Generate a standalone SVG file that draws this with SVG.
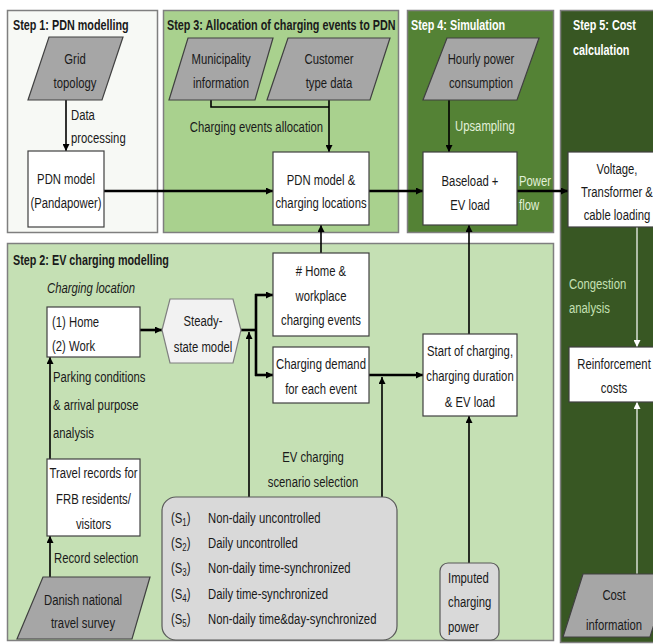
<svg xmlns="http://www.w3.org/2000/svg" width="653" height="644" viewBox="0 0 653 644">
<defs>
<style>
text{font-family:"Liberation Sans",Arial,sans-serif;font-size:14.5px;fill:#1a1a1a}
.m{text-anchor:middle}
.b{font-weight:bold}
.w{fill:#ffffff}
.lg{fill:#e2f0d9}
.cg{fill:#c5e0b4}
.i{font-style:italic}
.panel{stroke:#7f7f7f;stroke-width:1.5}
.box{fill:#ffffff;stroke:#404040;stroke-width:1.2}
.par{fill:#a6a6a6;stroke:#404040;stroke-width:1.2}
.gr{fill:#d9d9d9;stroke:#595959;stroke-width:1.2}
.ln{fill:none;stroke:#000;stroke-width:1.6}
.th{fill:none;stroke:#000;stroke-width:2.6}
.wl{fill:none;stroke:#fff;stroke-width:1.2}
</style>
<marker id="ah" markerUnits="userSpaceOnUse" markerWidth="8" markerHeight="7" refX="7" refY="3.5" orient="auto"><path d="M0,0 L7,3.5 L0,7 z" fill="#000"/></marker>
<marker id="aw" markerUnits="userSpaceOnUse" markerWidth="8" markerHeight="7" refX="7" refY="3.5" orient="auto"><path d="M0,0 L7,3.5 L0,7 z" fill="#fff"/></marker>
</defs>
<rect width="653" height="644" fill="#ffffff"/>

<g id="panels">
<rect class="panel" x="7.5" y="10.5" width="150" height="222" fill="#f7f9f5"/>
<rect class="panel" x="163.5" y="10.5" width="235" height="222" fill="#a9d18e"/>
<rect class="panel" x="407.5" y="10.5" width="146" height="222" fill="#548235"/>
<rect class="panel" x="560.5" y="10.5" width="100" height="632" fill="#385723"/>
<rect class="panel" x="7.5" y="243.5" width="546" height="397" fill="#c5e0b4"/>
<text class="b" transform="translate(13 30) scale(.745 1)">Step 1: PDN modelling</text>
<text class="b" transform="translate(167 30) scale(.745 1)">Step 3: Allocation of charging events to PDN</text>
<text class="b w" transform="translate(411 30) scale(.745 1)">Step 4: Simulation</text>
<text class="b w" transform="translate(573 30) scale(.745 1)">Step 5: Cost</text>
<text class="b w" transform="translate(573 55) scale(.745 1)">calculation</text>
<text class="b" transform="translate(13 265) scale(.745 1)">Step 2: EV charging modelling</text>
</g>

<g id="connectors">
<line class="ln" x1="66" y1="100" x2="66" y2="151" marker-end="url(#ah)"/>
<text transform="translate(71 120) scale(.78 1)">Data</text>
<text transform="translate(71 143) scale(.78 1)">processing</text>
<line class="th" x1="104" y1="191" x2="273" y2="191" marker-end="url(#ah)"/>
<polyline class="ln" points="211,100 211,107 329,107"/>
<line class="ln" x1="329" y1="100" x2="329" y2="152" marker-end="url(#ah)"/>
<text class="m" transform="translate(256.5 132) scale(.78 1)">Charging events allocation</text>
<line class="th" x1="369" y1="191" x2="423" y2="191" marker-end="url(#ah)"/>
<line class="ln" x1="449" y1="100" x2="449" y2="152" marker-end="url(#ah)"/>
<text class="lg" transform="translate(455 131) scale(.78 1)">Upsampling</text>
<line class="th" x1="517" y1="191" x2="568" y2="191" marker-end="url(#ah)"/>
<text class="lg" transform="translate(519 186) scale(.78 1)">Power</text>
<text class="lg" transform="translate(519 210) scale(.78 1)">flow</text>
<line class="wl" x1="637" y1="227" x2="637" y2="347" marker-end="url(#aw)"/>
<text class="cg" transform="translate(569 289) scale(.78 1)">Congestion</text>
<text class="cg" transform="translate(569 313) scale(.78 1)">analysis</text>
<line class="wl" x1="637" y1="574" x2="637" y2="402" marker-end="url(#aw)"/>
<line class="ln" x1="321" y1="253" x2="321" y2="225" marker-end="url(#ah)"/>
<line class="ln" x1="469" y1="334" x2="469" y2="225" marker-end="url(#ah)"/>
<line class="th" x1="140" y1="330" x2="162" y2="330" marker-end="url(#ah)"/>
<line class="th" x1="241" y1="330" x2="257" y2="330"/>
<line class="th" x1="256" y1="294" x2="256" y2="376"/>
<line class="th" x1="255" y1="295" x2="273" y2="295" marker-end="url(#ah)"/>
<line class="th" x1="255" y1="375" x2="273" y2="375" marker-end="url(#ah)"/>
<line class="ln" x1="249" y1="497" x2="249" y2="332" marker-end="url(#ah)"/>
<line class="th" x1="369" y1="375" x2="423" y2="375" marker-end="url(#ah)"/>
<line class="ln" x1="382" y1="497" x2="382" y2="377" marker-end="url(#ah)"/>
<line class="ln" x1="469" y1="563" x2="469" y2="416" marker-end="url(#ah)"/>
<line class="ln" x1="50" y1="459" x2="50" y2="357" marker-end="url(#ah)"/>
<text transform="translate(53 382) scale(.78 1)">Parking conditions</text>
<text transform="translate(53 410) scale(.78 1)">&amp; arrival purpose</text>
<text transform="translate(53 438) scale(.78 1)">analysis</text>
<line class="ln" x1="50" y1="577" x2="50" y2="536" marker-end="url(#ah)"/>
<text transform="translate(54 563) scale(.78 1)">Record selection</text>
<text class="m" transform="translate(313 462) scale(.78 1)">EV charging</text>
<text class="m" transform="translate(313 487) scale(.78 1)">scenario selection</text>
</g>

<g id="grid-topology">
<polygon class="par" points="49,37 123,37 102,100 28,100"/>
<text class="m" transform="translate(75 64) scale(.78 1)">Grid</text>
<text class="m" transform="translate(75 88) scale(.78 1)">topology</text>
</g>
<g id="pdn-model">
<rect class="box" x="28" y="151" width="76" height="76"/>
<text class="m" transform="translate(66 184) scale(.78 1)">PDN model</text>
<text class="m" transform="translate(66 208) scale(.78 1)">(Pandapower)</text>
</g>
<g id="municipality">
<polygon class="par" points="188,38 273,38 255,100 169,100"/>
<text class="m" transform="translate(221 64) scale(.78 1)">Municipality</text>
<text class="m" transform="translate(221 88) scale(.78 1)">information</text>
</g>
<g id="customer">
<polygon class="par" points="288,38 390,38 370,100 267,100"/>
<text class="m" transform="translate(329 64) scale(.78 1)">Customer</text>
<text class="m" transform="translate(329 88) scale(.78 1)">type data</text>
</g>
<g id="pdn-charging">
<rect class="box" x="273" y="152" width="96" height="73"/>
<text class="m" transform="translate(321 185) scale(.78 1)">PDN model &amp;</text>
<text class="m" transform="translate(321 208) scale(.78 1)">charging locations</text>
</g>
<g id="hourly">
<polygon class="par" points="447,38 539,38 517,100 423,100"/>
<text class="m" transform="translate(481 64) scale(.78 1)">Hourly power</text>
<text class="m" transform="translate(481 88) scale(.78 1)">consumption</text>
</g>
<g id="baseload">
<rect class="box" x="423" y="152" width="94" height="73"/>
<text class="m" transform="translate(470 186) scale(.78 1)">Baseload +</text>
<text class="m" transform="translate(470 210) scale(.78 1)">EV load</text>
</g>
<g id="voltage">
<rect class="box" x="568" y="152" width="100" height="75"/>
<text class="m" transform="translate(617 174) scale(.78 1)">Voltage,</text>
<text class="m" transform="translate(617 197) scale(.78 1)">Transformer &amp;</text>
<text class="m" transform="translate(617 220) scale(.78 1)">cable loading</text>
</g>
<g id="reinforcement">
<rect class="box" x="569" y="347" width="95" height="55"/>
<text class="m" transform="translate(614 369) scale(.78 1)">Reinforcement</text>
<text class="m" transform="translate(614 393) scale(.78 1)">costs</text>
</g>
<g id="cost-info">
<polygon class="par" points="583,574 670,574 650,637 563,637"/>
<text class="m" transform="translate(614 600) scale(.78 1)">Cost</text>
<text class="m" transform="translate(614 630) scale(.78 1)">information</text>
</g>
<g id="charging-location">
<text class="i" transform="translate(47 293) scale(.78 1)">Charging location</text>
<rect class="box" x="47" y="307" width="93" height="50"/>
<text transform="translate(52 327) scale(.78 1)">(1) Home</text>
<text transform="translate(52 351) scale(.78 1)">(2) Work</text>
</g>
<g id="steady-state">
<polygon points="162,330 170,299 233,299 241,330 233,363 170,363" fill="#f2f2f2" stroke="#7f7f7f" stroke-width="1.2"/>
<text class="m" transform="translate(203 326) scale(.78 1)">Steady-</text>
<text class="m" transform="translate(203 352) scale(.78 1)">state model</text>
</g>
<g id="home-events">
<rect class="box" x="273" y="253" width="96" height="83"/>
<text class="m" transform="translate(321 276) scale(.78 1)"># Home &amp;</text>
<text class="m" transform="translate(321 301) scale(.78 1)">workplace</text>
<text class="m" transform="translate(321 325) scale(.78 1)">charging events</text>
</g>
<g id="charging-demand">
<rect class="box" x="273" y="347" width="96" height="56"/>
<text class="m" transform="translate(321 369) scale(.78 1)">Charging demand</text>
<text class="m" transform="translate(321 394) scale(.78 1)">for each event</text>
</g>
<g id="start-charging">
<rect class="box" x="423" y="334" width="94" height="82"/>
<text class="m" transform="translate(470 356) scale(.78 1)">Start of charging,</text>
<text class="m" transform="translate(470 381) scale(.78 1)">charging duration</text>
<text class="m" transform="translate(470 407) scale(.78 1)">&amp; EV load</text>
</g>
<g id="travel-records">
<rect class="box" x="47" y="459" width="93" height="77"/>
<text class="m" transform="translate(93.5 478) scale(.78 1)">Travel records for</text>
<text class="m" transform="translate(93.5 504) scale(.78 1)">FRB residents/</text>
<text class="m" transform="translate(93.5 529) scale(.78 1)">visitors</text>
</g>
<g id="danish-survey">
<polygon class="par" points="43,577 150,577 132,639 17,639"/>
<text class="m" transform="translate(83 605) scale(.78 1)">Danish national</text>
<text class="m" transform="translate(83 628) scale(.78 1)">travel survey</text>
</g>
<g id="scenarios">
<rect class="gr" x="162" y="497" width="235" height="143" rx="14"/>
<text transform="translate(171 523) scale(.78 1)">(S<tspan font-size="10" dy="3">1</tspan><tspan dy="-3">)</tspan></text>
<text transform="translate(208 523) scale(.78 1)">Non-daily uncontrolled</text>
<text transform="translate(171 548) scale(.78 1)">(S<tspan font-size="10" dy="3">2</tspan><tspan dy="-3">)</tspan></text>
<text transform="translate(208 548) scale(.78 1)">Daily uncontrolled</text>
<text transform="translate(171 573) scale(.78 1)">(S<tspan font-size="10" dy="3">3</tspan><tspan dy="-3">)</tspan></text>
<text transform="translate(208 573) scale(.78 1)">Non-daily time-synchronized</text>
<text transform="translate(171 599) scale(.78 1)">(S<tspan font-size="10" dy="3">4</tspan><tspan dy="-3">)</tspan></text>
<text transform="translate(208 599) scale(.78 1)">Daily time-synchronized</text>
<text transform="translate(171 624) scale(.78 1)">(S<tspan font-size="10" dy="3">5</tspan><tspan dy="-3">)</tspan></text>
<text transform="translate(208 624) scale(.78 1)">Non-daily time&amp;day-synchronized</text>
</g>
<g id="imputed">
<rect class="gr" x="440" y="563" width="59" height="77" rx="8"/>
<text transform="translate(448 583) scale(.78 1)">Imputed</text>
<text transform="translate(448 607) scale(.78 1)">charging</text>
<text transform="translate(448 632) scale(.78 1)">power</text>
</g>
</svg>
